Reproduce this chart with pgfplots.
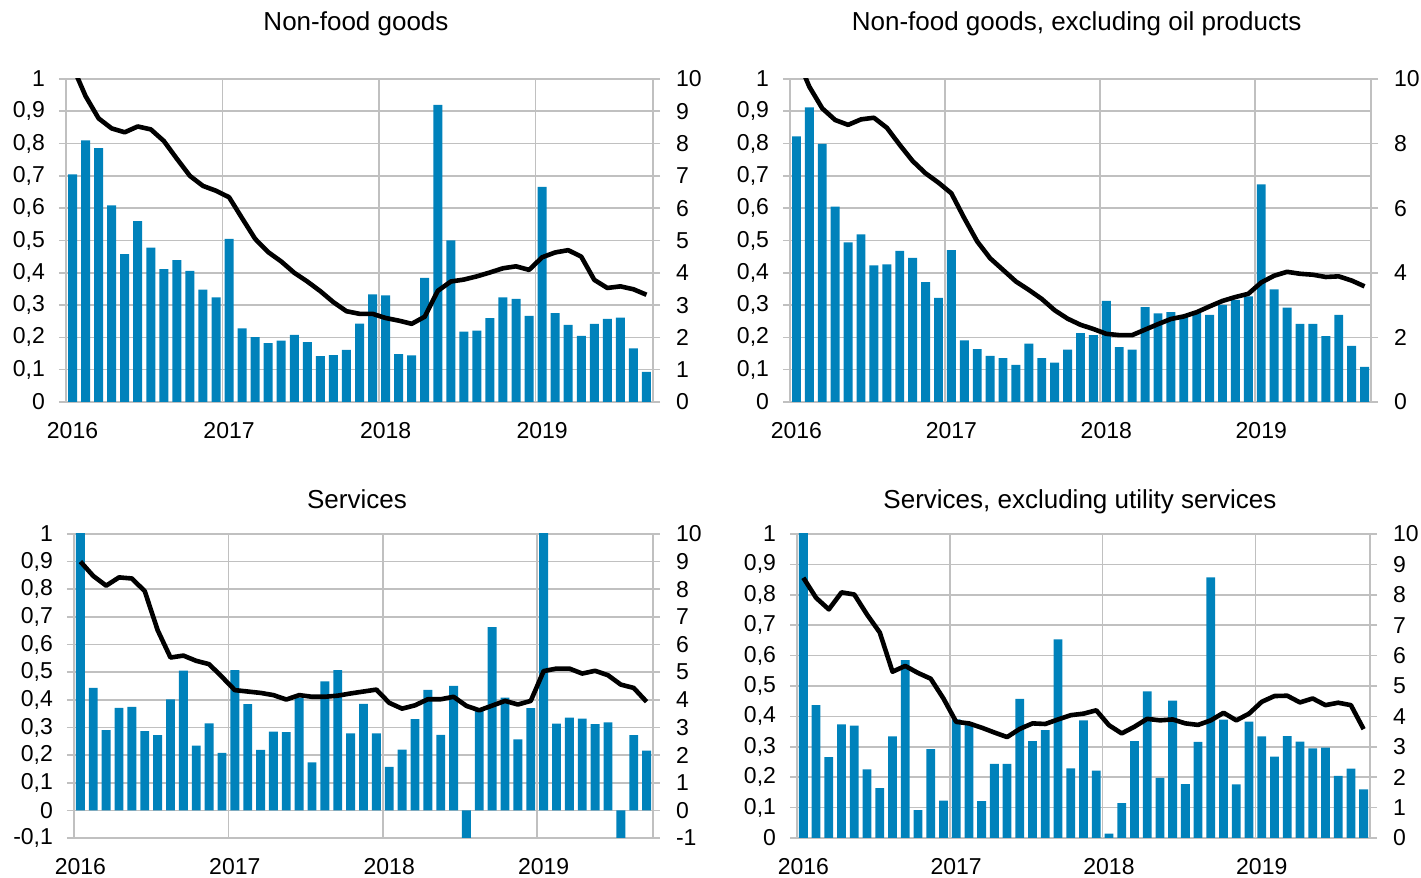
\documentclass[border=0pt]{standalone}
\usepackage{fontspec}
\setmainfont{Liberation Sans}
\usepackage{pgfplots}
\usepackage{pgfplotstable}
\pgfplotsset{compat=1.18}

\definecolor{barblue}{RGB}{0,130,187}
\definecolor{gridgray}{RGB}{192,192,192}

% month index (0 = Jan 2016), monthly change (bars, left axis), yoy (line, right axis)
\pgfplotstableread{
x b l
0 0.705 10.4
1 0.810 9.47
2 0.786 8.78
3 0.609 8.47
4 0.458 8.35
5 0.560 8.53
6 0.478 8.44
7 0.411 8.08
8 0.439 7.53
9 0.406 7.00
10 0.348 6.69
11 0.324 6.54
12 0.505 6.34
13 0.228 5.69
14 0.201 5.05
15 0.182 4.64
16 0.190 4.35
17 0.208 4.00
18 0.185 3.73
19 0.142 3.43
20 0.145 3.09
21 0.161 2.81
22 0.243 2.73
23 0.333 2.73
24 0.330 2.60
25 0.148 2.52
26 0.144 2.42
27 0.384 2.64
28 0.920 3.44
29 0.500 3.73
30 0.218 3.79
31 0.221 3.89
32 0.260 4.01
33 0.324 4.14
34 0.319 4.20
35 0.267 4.09
36 0.666 4.48
37 0.275 4.63
38 0.239 4.70
39 0.205 4.50
40 0.242 3.78
41 0.257 3.53
42 0.261 3.58
43 0.166 3.49
44 0.093 3.32
}\nonfood

\pgfplotstableread{
x b l
0 0.822 10.7
1 0.912 9.76
2 0.799 9.09
3 0.605 8.73
4 0.494 8.58
5 0.519 8.75
6 0.423 8.80
7 0.426 8.49
8 0.468 7.96
9 0.446 7.46
10 0.371 7.08
11 0.322 6.79
12 0.470 6.46
13 0.191 5.69
14 0.164 4.97
15 0.143 4.45
16 0.136 4.09
17 0.115 3.73
18 0.181 3.47
19 0.136 3.19
20 0.122 2.84
21 0.162 2.58
22 0.213 2.39
23 0.207 2.26
24 0.313 2.11
25 0.170 2.07
26 0.162 2.07
27 0.294 2.24
28 0.274 2.41
29 0.278 2.57
30 0.265 2.65
31 0.275 2.78
32 0.270 2.96
33 0.301 3.13
34 0.316 3.25
35 0.327 3.35
36 0.674 3.70
37 0.349 3.91
38 0.292 4.03
39 0.242 3.97
40 0.242 3.94
41 0.204 3.87
42 0.270 3.89
43 0.174 3.76
44 0.109 3.58
}\nonoil

\pgfplotstableread{
x b l
0 1.05 9.00
1 0.443 8.48
2 0.290 8.13
3 0.371 8.43
4 0.374 8.39
5 0.287 7.93
6 0.272 6.52
7 0.402 5.53
8 0.506 5.60
9 0.234 5.41
10 0.315 5.29
11 0.208 4.83
12 0.507 4.35
13 0.384 4.30
14 0.219 4.25
15 0.285 4.17
16 0.283 4.01
17 0.407 4.17
18 0.174 4.11
19 0.467 4.11
20 0.507 4.15
21 0.279 4.23
22 0.385 4.30
23 0.279 4.37
24 0.157 3.89
25 0.220 3.68
26 0.330 3.80
27 0.436 4.02
28 0.273 4.02
29 0.450 4.11
30 -0.12 3.78
31 0.360 3.62
32 0.663 3.79
33 0.408 3.96
34 0.257 3.83
35 0.370 3.96
36 1.05 5.04
37 0.314 5.13
38 0.336 5.13
39 0.332 4.95
40 0.312 5.05
41 0.318 4.89
42 -0.12 4.55
43 0.272 4.43
44 0.216 3.93
}\services

\pgfplotstableread{
x b l
0 1.05 8.56
1 0.437 7.90
2 0.266 7.52
3 0.374 8.08
4 0.370 8.01
5 0.226 7.35
6 0.164 6.76
7 0.334 5.47
8 0.585 5.66
9 0.092 5.43
10 0.292 5.24
11 0.123 4.59
12 0.390 3.82
13 0.376 3.77
14 0.121 3.63
15 0.244 3.47
16 0.244 3.32
17 0.458 3.59
18 0.319 3.77
19 0.355 3.75
20 0.653 3.90
21 0.229 4.04
22 0.387 4.09
23 0.222 4.20
24 0.014 3.71
25 0.115 3.44
26 0.319 3.66
27 0.482 3.92
28 0.198 3.87
29 0.452 3.90
30 0.177 3.77
31 0.316 3.72
32 0.857 3.87
33 0.389 4.12
34 0.176 3.87
35 0.383 4.09
36 0.334 4.48
37 0.268 4.67
38 0.335 4.68
39 0.317 4.46
40 0.295 4.59
41 0.297 4.37
42 0.204 4.45
43 0.228 4.37
44 0.160 3.58
}\servnoutil

\pgfplotsset{
  panel/.style={
    scale only axis, xmin=-0.5, xmax=44.5,
    /pgf/number format/assume math mode=true,
    /pgf/number format/use comma,
    tick label style={font=\fontsize{11.5}{13}\selectfont, text=black},
    axis line style={-, draw=gridgray, line width=0.8pt},
    tick style={draw=gridgray, line width=0.8pt},
    tick align=outside, major tick length=3.5pt,
  },
  barax/.style={
    panel, ybar, bar width=0.69,
    axis y line*=left, axis x line*=bottom,
    ymajorgrids, grid style={draw=gridgray, line width=0.8pt},
    xtick={0,12,24,36}, xticklabels={2016,2017,2018,2019},
    xtick style={draw=none},
    extra x ticks={11.5,23.5,35.5}, extra x tick labels={},
    extra x tick style={grid=major, tick style={draw=none}},
    xticklabel style={yshift=-3.3pt},
    yticklabel style={xshift=-3.5pt},
  },
  lineax/.style={
    panel, axis y line*=right, axis x line=none,
    yticklabel style={xshift=4.5pt},
  },
  bars/.style={fill=barblue, draw=none},
  yoy/.style={black, line width=2.3pt, line join=round, mark=none},
}

\newcommand{\ttl}{\fontsize{13}{15}\selectfont}

\begin{document}
\begin{tikzpicture}

% Non-food goods
\begin{axis}[barax, at={(33pt,238pt)}, anchor=south west,
  width=293.5pt, height=161.5pt, ymin=0, ymax=1,
  ytick={0,0.1,0.2,0.3,0.4,0.5,0.6,0.7,0.8,0.9,1}]
\addplot[bars] table[x=x,y=b]{\nonfood};
\end{axis}
\begin{axis}[lineax, at={(33pt,238pt)}, anchor=south west,
  width=293.5pt, height=161.5pt, ymin=0, ymax=10,
  ytick={0,1,2,3,4,5,6,7,8,9,10}]
\addplot[yoy] table[x=x,y=l]{\nonfood};
\end{axis}

% Non-food goods, excluding oil products
\begin{axis}[barax, at={(395pt,238pt)}, anchor=south west,
  width=290.5pt, height=161.5pt, ymin=0, ymax=1,
  ytick={0,0.1,0.2,0.3,0.4,0.5,0.6,0.7,0.8,0.9,1}]
\addplot[bars] table[x=x,y=b]{\nonoil};
\end{axis}
\begin{axis}[lineax, at={(395pt,238pt)}, anchor=south west,
  width=290.5pt, height=161.5pt, ymin=0, ymax=10,
  ytick={0,2,4,6,8,10}]
\addplot[yoy] table[x=x,y=l]{\nonoil};
\end{axis}

% Services
\begin{axis}[barax, at={(37pt,20pt)}, anchor=south west,
  width=289.5pt, height=152pt, ymin=-0.1, ymax=1,
  ytick={-0.1,0,0.1,0.2,0.3,0.4,0.5,0.6,0.7,0.8,0.9,1}]
\addplot[bars] table[x=x,y=b]{\services};
\end{axis}
\begin{axis}[lineax, at={(37pt,20pt)}, anchor=south west,
  width=289.5pt, height=152pt, ymin=-1, ymax=10,
  ytick={-1,0,1,2,3,4,5,6,7,8,9,10}]
\addplot[yoy] table[x=x,y=l]{\services};
\end{axis}

% Services, excluding utility services
\begin{axis}[barax, at={(398.5pt,20pt)}, anchor=south west,
  width=286.5pt, height=152pt, ymin=0, ymax=1,
  ytick={0,0.1,0.2,0.3,0.4,0.5,0.6,0.7,0.8,0.9,1}]
\addplot[bars] table[x=x,y=b]{\servnoutil};
\end{axis}
\begin{axis}[lineax, at={(398.5pt,20pt)}, anchor=south west,
  width=286.5pt, height=152pt, ymin=0, ymax=10,
  ytick={0,1,2,3,4,5,6,7,8,9,10}]
\addplot[yoy] table[x=x,y=l]{\servnoutil};
\end{axis}

\node[anchor=base, font=\ttl] at (178pt,423.6pt) {Non-food goods};
\node[anchor=base, font=\ttl] at (538.3pt,423.6pt) {Non-food goods, excluding oil products};
\node[anchor=base, font=\ttl] at (178.5pt,184.6pt) {Services};
\node[anchor=base, font=\ttl] at (540pt,184.6pt) {Services, excluding utility services};

\pgfresetboundingbox
\useasboundingbox (0,0) rectangle (710.5pt,439pt);
\end{tikzpicture}
\end{document}
